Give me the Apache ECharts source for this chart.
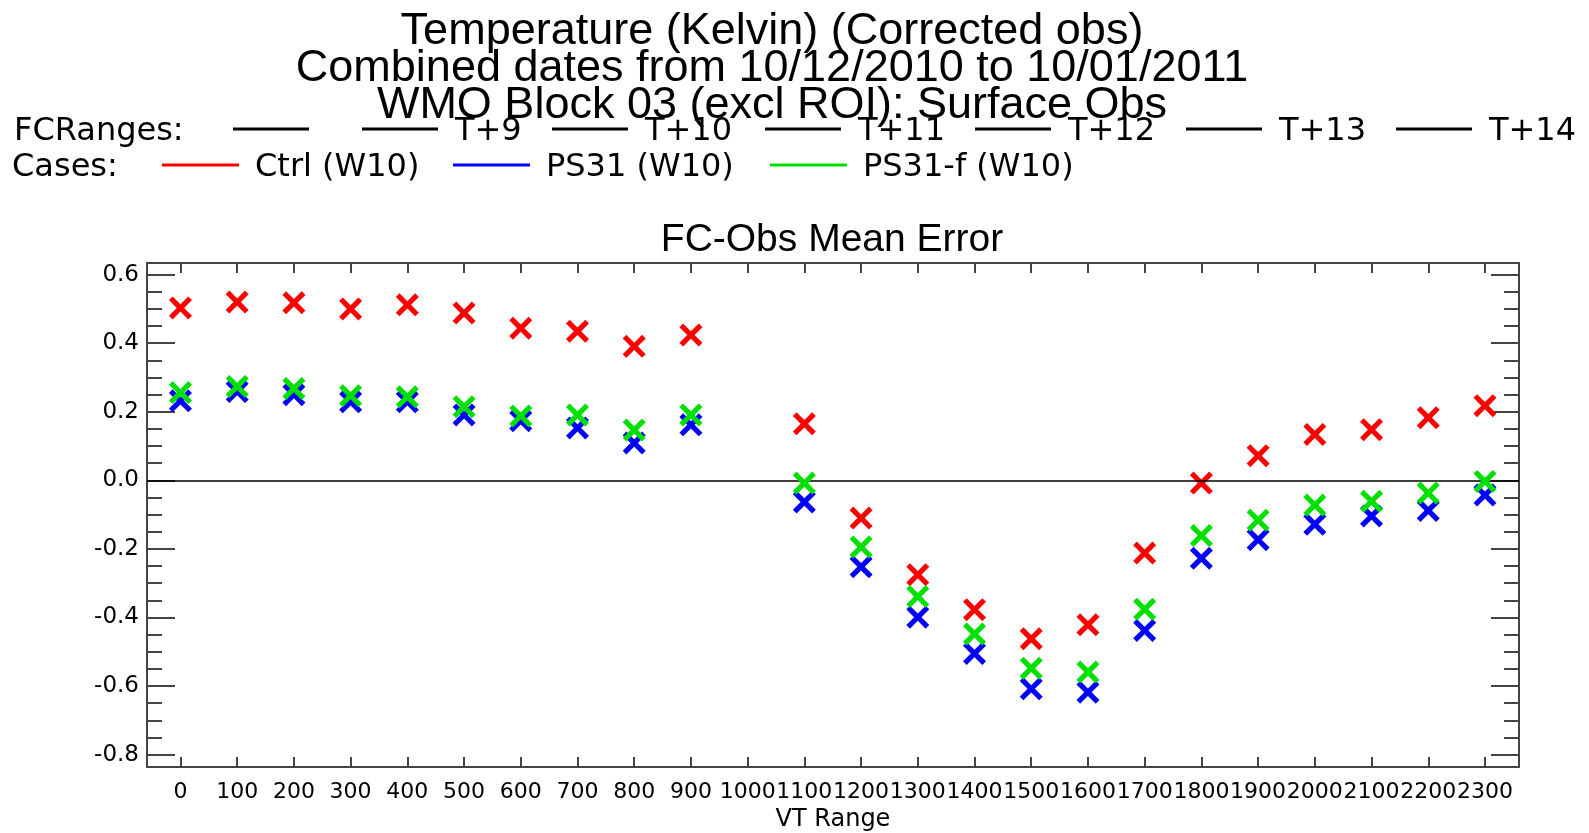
<!DOCTYPE html>
<html>
<head>
<meta charset="utf-8">
<script src="https://cdn.jsdelivr.net/npm/echarts@6/dist/echarts.min.js"></script>
<style>
  html, body { margin: 0; padding: 0; background: #fff; }
  #plot { width: 1589px; height: 833px; }
</style>
</head>
<body>
<div id="plot"></div>
<script>
// VT range categories (x) and mean error per case, null = no value
var vtRange = [0, 100, 200, 300, 400, 500, 600, 700, 800, 900, 1000, 1100,
  1200, 1300, 1400, 1500, 1600, 1700, 1800, 1900, 2000, 2100, 2200, 2300];
var ctrl = [0.503, 0.520, 0.518, 0.500, 0.512, 0.488, 0.444, 0.435, 0.391, 0.424, null, 0.165,
  -0.110, -0.275, -0.377, -0.462, -0.421, -0.212, -0.008, 0.072, 0.134, 0.148, 0.183, 0.218];
var ps31 = [0.232, 0.259, 0.250, 0.229, 0.229, 0.191, 0.174, 0.153, 0.109, 0.162, null, -0.063,
  -0.252, -0.399, -0.505, -0.608, -0.618, -0.438, -0.227, -0.173, -0.128, -0.104, -0.088, -0.043];
var ps31f = [0.256, 0.274, 0.268, 0.247, 0.244, 0.215, 0.188, 0.191, 0.147, 0.191, null, -0.008,
  -0.194, -0.339, -0.448, -0.548, -0.559, -0.376, -0.161, -0.116, -0.072, -0.061, -0.037, -0.003];

var yTicks = [-0.8, -0.6, -0.4, -0.2, 0.0, 0.2, 0.4, 0.6];
var yMinorTicks = [-0.75, -0.7, -0.65, -0.55, -0.5, -0.45, -0.35, -0.3, -0.25, -0.15, -0.1, -0.05,
  0.05, 0.1, 0.15, 0.25, 0.3, 0.35, 0.45, 0.5, 0.55];

var titleLines = ['Temperature (Kelvin) (Corrected obs)', 'Combined dates from 10/12/2010 to 10/01/2011',
  'WMO Block 03 (excl ROI): Surface Obs'];
var plotTitle = 'FC-Obs Mean Error';
var xName = 'VT Range';
var fcRangeLabels = ['', 'T+9', 'T+10', 'T+11', 'T+12', 'T+13', 'T+14'];
var caseNames = ['Ctrl (W10)', 'PS31 (W10)', 'PS31-f (W10)'];
var caseColors = ['#ff0000', '#0000ff', '#00e000'];

// layout
var yMin = -0.836, yMax = 0.634;
var xMin = -59, xMax = 2360;
var frameColor = '#444';
var crossPath = 'path://M0,1.6 L1.6,0 L5,3.4 L8.4,0 L10,1.6 L6.6,5 L10,8.4 L8.4,10 L5,6.6 L1.6,10 L0,8.4 L3.4,5 Z';

function toPairs(vals) {
  return vtRange.map(function (v, i) { return [v, vals[i]]; })
    .filter(function (p) { return p[1] !== null; });
}

function yAxisDef(pos, ticks, len, showLine, showLabel) {
  return {
    type: 'value', position: pos, min: yMin, max: yMax, offset: 0,
    splitLine: { show: false },
    axisLine: { show: showLine, onZero: false, lineStyle: { color: frameColor, width: 2 } },
    axisTick: { show: true, inside: true, length: len, customValues: ticks,
      lineStyle: { color: frameColor, width: 2 } },
    axisLabel: { show: showLabel, customValues: ticks, margin: 8, color: '#000',
      fontFamily: 'DejaVu Sans', fontSize: 23,
      formatter: function (v) { return v.toFixed(1); } }
  };
}

function xAxisDef(pos, showLabel) {
  return {
    type: 'value', position: pos, min: xMin, max: xMax,
    splitLine: { show: false },
    axisLine: { show: true, onZero: false, lineStyle: { color: frameColor, width: 2 } },
    axisTick: { show: true, inside: true, length: 10, customValues: vtRange,
      lineStyle: { color: frameColor, width: 2 } },
    axisLabel: { show: showLabel, customValues: vtRange, margin: 14, color: '#000',
      fontFamily: 'DejaVu Sans', fontSize: 22,
      formatter: function (v) { return String(v); } },
    name: showLabel ? xName : '',
    nameLocation: 'middle', nameGap: 41,
    nameTextStyle: { color: '#000', fontFamily: 'DejaVu Sans', fontSize: 24 }
  };
}

// legend rows drawn as graphic elements
var legendFont = 'DejaVu Sans';
var legendSize = 32;
var row1Y = 129, row2Y = 165, textDy = 3;
var fcLineX = [233, 362, 552, 765, 975, 1186, 1396];
var caseLineX = [162, 453, 770];
var graphics = [];
function legendText(x, y, txt) {
  return { type: 'text', x: x, y: y + textDy,
    style: { text: txt, fontFamily: legendFont, fontSize: legendSize, fill: '#000', verticalAlign: 'middle' } };
}
graphics.push(legendText(14, row1Y, 'FCRanges:'));
graphics.push(legendText(12, row2Y, 'Cases:'));
fcRangeLabels.forEach(function (lab, i) {
  graphics.push({ type: 'line', shape: { x1: fcLineX[i], y1: row1Y, x2: fcLineX[i] + 76, y2: row1Y },
    style: { stroke: '#000', lineWidth: 3 } });
  graphics.push(legendText(fcLineX[i] + 93, row1Y, lab));
});
caseNames.forEach(function (name, i) {
  graphics.push({ type: 'line', shape: { x1: caseLineX[i], y1: row2Y, x2: caseLineX[i] + 77, y2: row2Y },
    style: { stroke: caseColors[i], lineWidth: 3 } });
  graphics.push(legendText(caseLineX[i] + 93, row2Y, name));
});

var seriesData = [ctrl, ps31, ps31f];
var series = seriesData.map(function (vals, i) {
  var s = {
    name: caseNames[i], type: 'scatter', xAxisIndex: 0, yAxisIndex: 0,
    symbol: crossPath, symbolSize: 23,
    itemStyle: { color: caseColors[i], opacity: 1 },
    data: toPairs(vals), z: 3 + i
  };
  if (i === 0) {
    s.markLine = {
      silent: true, symbol: ['none', 'none'], label: { show: false },
      lineStyle: { color: '#000', width: 1.5, type: 'solid' },
      data: [{ yAxis: 0 }]
    };
  }
  return s;
});

var myChart = echarts.init(document.getElementById('plot'));
var option = {
  animation: false,
  backgroundColor: '#fff',
  title: [
    { text: titleLines.join('\n'), left: 772, top: 13, padding: 0, textAlign: 'center',
      textStyle: { fontFamily: 'Liberation Sans', fontSize: 45, fontWeight: 'normal', color: '#000', lineHeight: 37 } },
    { text: plotTitle, left: 832, top: 220, padding: 0, textAlign: 'center',
      textStyle: { fontFamily: 'Liberation Sans', fontSize: 39, fontWeight: 'normal', color: '#000', lineHeight: 40 } }
  ],
  grid: { left: 147, right: 70, top: 263, bottom: 66, containLabel: false, outerBoundsMode: 'none' },
  xAxis: [xAxisDef('bottom', true), xAxisDef('top', false)],
  yAxis: [
    yAxisDef('left', yTicks, 28, true, true),
    yAxisDef('left', yMinorTicks, 15, false, false),
    yAxisDef('right', yTicks, 28, true, false),
    yAxisDef('right', yMinorTicks, 15, false, false)
  ],
  graphic: graphics,
  series: series
};
myChart.setOption(option);
</script>
</body>
</html>
